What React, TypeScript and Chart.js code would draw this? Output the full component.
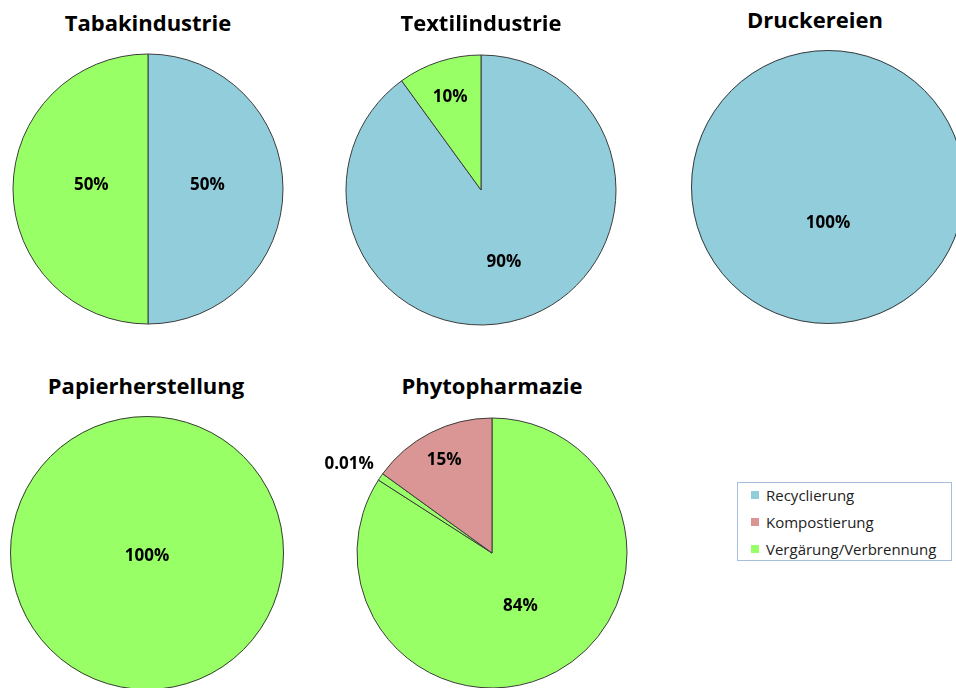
import React, { useEffect, useRef } from "react";
import Chart from "chart.js/auto";

// ---------- data ----------
const legendLabels = ["Recyclierung", "Kompostierung", "Vergärung/Verbrennung"];
const BLUE = "#92CDDC";
const PINK = "#D99694";
const GREEN = "#99FF66";
const legendColors = [BLUE, PINK, GREEN];

const titles = ["Tabakindustrie", "Textilindustrie", "Druckereien", "Papierherstellung", "Phytopharmazie"];

const tabakValues = [50, 50];
const tabakLabels = ["50%", "50%"];
const tabakColors = [BLUE, GREEN];

const textilValues = [90, 10];
const textilLabels = ["90%", "10%"];
const textilColors = [BLUE, GREEN];

const druckValues = [100];
const druckLabels = ["100%"];
const druckColors = [BLUE];

const papierValues = [100];
const papierLabels = ["100%"];
const papierColors = [GREEN];

const phytoValues = [84, 0.9, 15];
const phytoLabels = ["84%", "0.01%", "15%"];
const phytoColors = [GREEN, GREEN, PINK];

// ---------- layout ----------
const FONT = "'Open Sans', Lato, sans-serif";
const CW = 340;
const CH = 290;
const LINE = "#3c3c3c";

const charts = [
  { title: titles[0], values: tabakValues, labels: tabakLabels, colors: tabakColors, fracs: [0.44, 0.42], shiftY: -4, cx: 148, cy: 189, r: 135, titleCx: 148, titleTop: 10 },
  { title: titles[1], values: textilValues, labels: textilLabels, colors: textilColors, fracs: [0.55, 0.74], shiftY: 2, cx: 481, cy: 190, r: 135, titleCx: 481, titleTop: 10 },
  { title: titles[2], values: druckValues, labels: druckLabels, colors: druckColors, fracs: [0.265], shiftY: 0, cx: 828, cy: 187, r: 137, titleCx: 815, titleTop: 7 },
  { title: titles[3], values: papierValues, labels: papierLabels, colors: papierColors, fracs: [0.025], shiftY: 0, cx: 147, cy: 553, r: 137, titleCx: 146, titleTop: 373 },
  { title: titles[4], values: phytoValues, labels: phytoLabels, colors: phytoColors, fracs: [0.44, 1.06, 0.78], shiftY: 1, cx: 492, cy: 553, r: 135, titleCx: 492, titleTop: 373 },
];

const sliceLabelPlugin = {
  id: "sliceLabels",
  afterDatasetsDraw(chart: any, _args: any, opts: any) {
    const meta = chart.getDatasetMeta(0);
    const ctx = chart.ctx;
    ctx.save();
    if (opts.full && meta.data.length) {
      const a = meta.data[0].getProps(["x", "y", "outerRadius"], true);
      ctx.beginPath();
      ctx.arc(a.x, a.y, a.outerRadius - 0.5, 0, Math.PI * 2);
      ctx.strokeStyle = LINE;
      ctx.lineWidth = 1;
      ctx.stroke();
    }
    ctx.font = `bold 17px ${FONT}`;
    ctx.fillStyle = "#000000";
    meta.data.forEach((arc: any, i: number) => {
      const p = arc.getProps(["x", "y", "startAngle", "endAngle", "outerRadius"], true);
      const mid = (p.startAngle + p.endAngle) / 2;
      const f = opts.fracs[i] ?? 0.5;
      const px = p.x + Math.cos(mid) * p.outerRadius * f;
      const py = p.y + Math.sin(mid) * p.outerRadius * f;
      if (f > 1) {
        ctx.textAlign = "right";
        ctx.textBaseline = "bottom";
        ctx.fillText(opts.labels[i], px, py);
      } else {
        ctx.textAlign = "center";
        ctx.textBaseline = "middle";
        ctx.fillText(opts.labels[i], px, py + (opts.shiftY || 0));
      }
    });
    ctx.restore();
  },
};

function Pie(props: any) {
  const ref = useRef<HTMLCanvasElement>(null);
  useEffect(() => {
    if (!ref.current) return;
    const full = props.values.length === 1;
    const chart = new Chart(ref.current, {
      type: "pie",
      data: {
        labels: props.labels,
        datasets: [
          {
            data: props.values,
            backgroundColor: props.colors,
            borderColor: LINE,
            borderWidth: full ? 0 : 1,
          },
        ],
      },
      options: {
        responsive: false,
        animation: false,
        radius: props.r,
        layout: { padding: 0 },
        plugins: {
          legend: { display: false },
          tooltip: { enabled: false },
          title: { display: false },
          sliceLabels: { labels: props.labels, fracs: props.fracs, shiftY: props.shiftY, full },
        } as any,
      } as any,
      plugins: [sliceLabelPlugin as any],
    });
    return () => chart.destroy();
  }, []);
  return (
    <>
      <canvas
        ref={ref}
        width={CW}
        height={CH}
        style={{ position: "absolute", left: props.cx - CW / 2, top: props.cy - CH / 2, width: CW, height: CH }}
      />
      <div
        style={{
          position: "absolute",
          left: props.titleCx - 150,
          top: props.titleTop,
          width: 300,
          textAlign: "center",
          font: `bold 22px ${FONT}`,
          lineHeight: "24px",
          color: "#000",
          whiteSpace: "nowrap",
        }}
      >
        {props.title}
      </div>
    </>
  );
}

export default function App() {
  return (
    <div style={{ position: "absolute", left: 0, top: 0, width: 956, height: 688, overflow: "hidden", background: "#fff" }}>
      {charts.map((c, i) => (
        <Pie key={i} {...c} />
      ))}
      <div
        style={{
          position: "absolute",
          left: 737,
          top: 482,
          width: 213,
          height: 77,
          border: "1px solid #A7BFDE",
          boxSizing: "content-box",
        }}
      >
        {legendLabels.map((l, i) => (
          <div
            key={i}
            style={{
              position: "absolute",
              left: 13,
              top: 2 + i * 27,
              height: 20,
              display: "flex",
              alignItems: "center",
              font: `15px ${FONT}`,
              color: "#222",
              whiteSpace: "nowrap",
            }}
          >
            <span style={{ display: "inline-block", width: 8, height: 8, background: legendColors[i], marginRight: 7 }} />
            {l}
          </div>
        ))}
      </div>
    </div>
  );
}
